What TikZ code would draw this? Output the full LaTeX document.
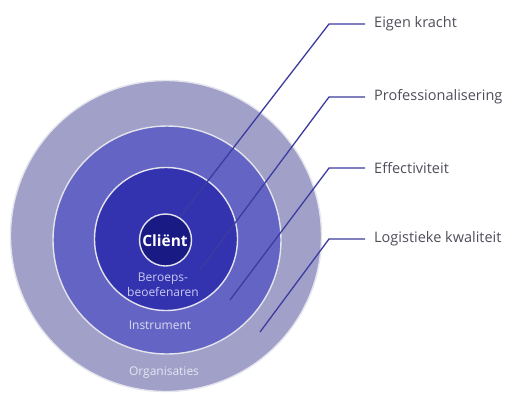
\documentclass[tikz,border=0pt]{standalone}
\usepackage{fontspec}
\setmainfont{Open Sans}
\definecolor{ringA}{HTML}{A0A0C8}
\definecolor{ringB}{HTML}{6464C4}
\definecolor{ringC}{HTML}{3333B0}
\definecolor{ringD}{HTML}{1A1A84}
\definecolor{rim}{HTML}{E4E4EE}
\definecolor{leader}{HTML}{3C3CA0}
\definecolor{labelgray}{HTML}{4E4E5A}
\definecolor{inA}{HTML}{E6E6F2}
\definecolor{inB}{HTML}{DCDCF2}
\definecolor{inC}{HTML}{C8C8F0}
\tikzset{
  ring/.style={circle, draw=rim, line width=1.4pt, inner sep=0pt},
  leaderline/.style={draw=leader, line width=1.3pt},
  sidelabel/.style={anchor=west, text=labelgray, font=\fontsize{14.5}{16}\selectfont, inner sep=0pt},
  innerlabel/.style={font=\fontsize{12}{15}\selectfont, inner sep=0pt, align=center}
}
\begin{document}
\begin{tikzpicture}[x=1pt,y=-1pt]
\useasboundingbox (0,0) rectangle (508,392);
% rings
\node[ring, fill=ringA, minimum size=311pt] (org) at (166,236) {};
\node[ring, fill=ringB, minimum size=228pt] (instr) at (167,240) {};
\node[ring, fill=ringC, minimum size=143pt] (beroep) at (166,239) {};
\node[ring, fill=ringD, minimum size=52pt] (client) at (165.5,240) {};
% inner labels
\node[text=white, font=\bfseries\fontsize{15.5}{18}\selectfont, inner sep=0pt] (clienttxt) at (165,241) {Cliënt};
\node[innerlabel, text=inC] (beroeptxt) at (163,285) {Beroeps-\\beoefenaren};
\node[innerlabel, text=inB] (instrtxt) at (160,325) {Instrument};
\node[innerlabel, text=inA] (orgtxt) at (164,373) {Organisaties};
% side labels
\node[sidelabel] (l1) at (374,24) {Eigen kracht};
\node[sidelabel] (l2) at (374,97) {Professionalisering};
\node[sidelabel] (l3) at (374,168) {Effectiviteit};
\node[sidelabel] (l4) at (374,239) {Logistieke kwaliteit};
% leader geometry
\coordinate (c1) at (329,24);  \coordinate (e1) at (180,217);
\coordinate (c2) at (329,97);  \coordinate (e2) at (200,270);
\coordinate (c3) at (329,168); \coordinate (e3) at (230,300);
\coordinate (c4) at (329,239); \coordinate (e4) at (260,332);
\coordinate (h1) at (365,24);
\coordinate (h2) at (365,97);
\coordinate (h3) at (365,168);
\coordinate (h4) at (365,239);
\draw[leaderline] (h1) -- (c1) -- (e1);
\draw[leaderline] (h2) -- (c2) -- (e2);
\draw[leaderline] (h3) -- (c3) -- (e3);
\draw[leaderline] (h4) -- (c4) -- (e4);
\end{tikzpicture}
\end{document}
